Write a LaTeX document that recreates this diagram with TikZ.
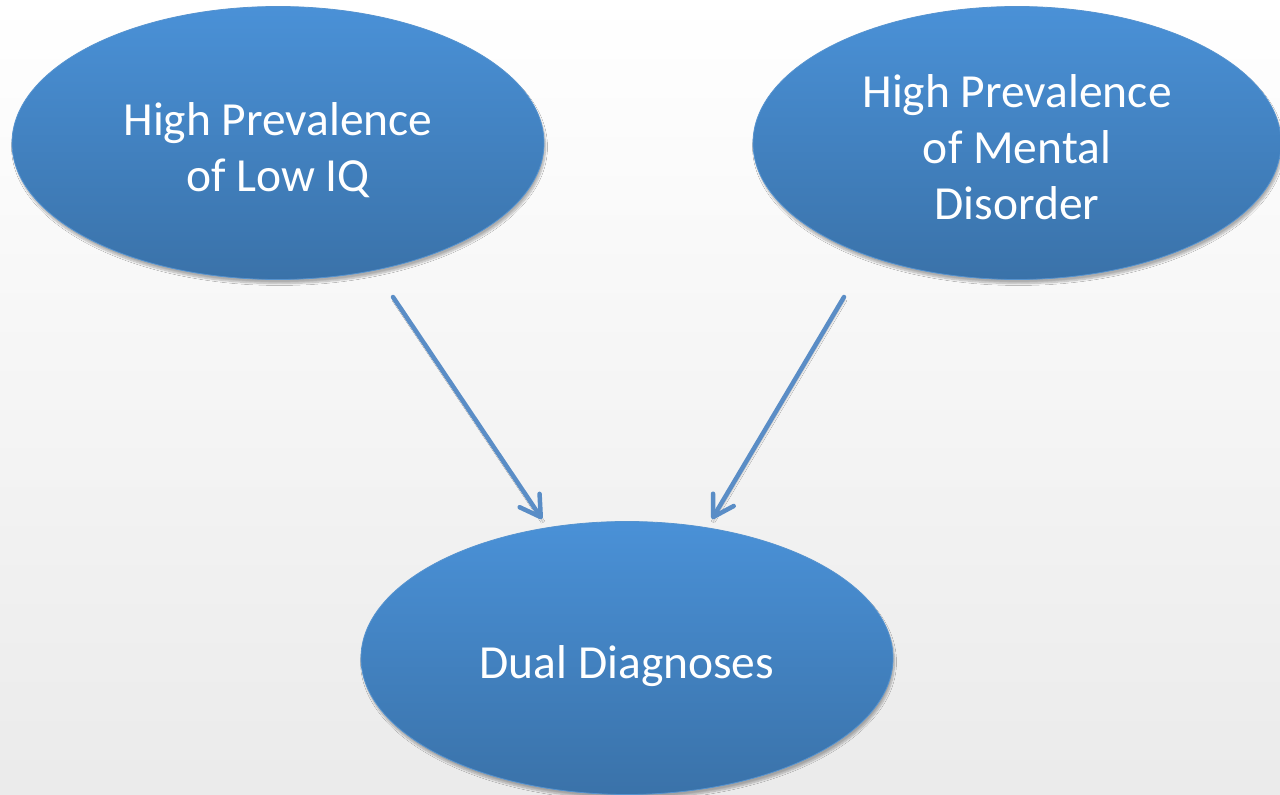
\documentclass[tikz,border=0pt]{standalone}
\usepackage{fontspec}
\setmainfont{Carlito}
\usetikzlibrary{shapes.geometric,arrows.meta,shadows.blur}
\definecolor{bubbletop}{HTML}{4A91D7}
\definecolor{bubblebot}{HTML}{3A72A9}
\definecolor{bubbleedge}{HTML}{5693CF}
\definecolor{linkblue}{HTML}{5A8DC6}
% centred lines, padded above so the text sits a little below the middle
\newcommand{\bubbletext}[1]{\raisebox{0pt}[\dimexpr\height+18pt\relax][\depth]{\begin{tabular}{@{}c@{}}#1\end{tabular}}}
\begin{document}
\begin{tikzpicture}[x=1pt,y=-1pt,
  bubble/.style={ellipse, minimum width=532pt, minimum height=273pt, inner sep=0pt,
    top color=bubbletop, bottom color=bubblebot, draw=bubbleedge, line width=0.8pt,
    blur shadow={shadow xshift=1.5pt, shadow yshift=-4pt, shadow blur steps=8, shadow opacity=30},
    text=white, font=\fontsize{47.5}{56}\selectfont},
  link/.style={draw=linkblue, line width=4.5pt, line cap=round,
    -{Straight Barb[length=20pt,width=24pt,line width=4.5pt,round]},
    blur shadow={shadow xshift=1pt, shadow yshift=-3pt, shadow blur steps=5, shadow opacity=25}}]
  % backdrop
  \useasboundingbox (0,0) rectangle (1280,795);
  \shade[top color=white, bottom color=black!8] (0,0) rectangle (1280,795);

  % the three ellipses
  \node[bubble] (lowiq) at (278,143) {\bubbletext{High Prevalence\\ of Low IQ}};
  \node[bubble, minimum width=528pt] (mental) at (1017,143) {\bubbletext{High Prevalence\\ of Mental\\ Disorder}};
  \node[bubble] (dual) at (627,658) {\bubbletext{Dual Diagnoses}};

  % arrow ends just clear of the ellipses
  \coordinate (s1) at (393,297);
  \coordinate (e1) at (542,519);
  \coordinate (s2) at (844,297);
  \coordinate (e2) at (712,519);
  \draw[link] (s1) -- (e1);
  \draw[link] (s2) -- (e2);
\end{tikzpicture}
\end{document}
